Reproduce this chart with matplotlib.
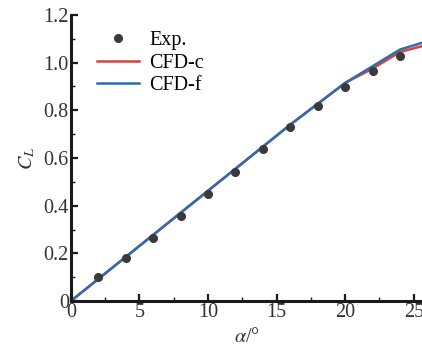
import numpy as np
import matplotlib.pyplot as plt
from matplotlib.ticker import MultipleLocator

plt.rcParams['font.family'] = ['Liberation Serif', 'DejaVu Serif']
plt.rcParams['mathtext.fontset'] = 'stix'

# experimental data
alpha_exp = [2, 4, 6, 8, 10, 12, 14, 16, 18, 20, 22, 24]
cl_exp = [0.10, 0.18, 0.265, 0.355, 0.45, 0.542, 0.636, 0.728, 0.82, 0.898, 0.965, 1.027]

# CFD results
alpha_cfd = [0, 4, 8, 12, 16, 20, 22, 24, 26]
cl_cfd_c = [0.0, 0.185, 0.37, 0.555, 0.74, 0.915, 0.975, 1.045, 1.075]
cl_cfd_f = [0.0, 0.185, 0.37, 0.555, 0.74, 0.915, 0.985, 1.055, 1.09]

fig = plt.figure(figsize=(4.22, 3.48), dpi=100)
ax = fig.add_axes([0.168, 0.135, 0.832, 0.822])

ax.plot(alpha_exp, cl_exp, 'o', color='#3a3a3a', ms=5.5, label='Exp.', zorder=3)
ax.plot(alpha_cfd, cl_cfd_c, '-', color='#d9433b', lw=1.8, label='CFD-c')
ax.plot(alpha_cfd, cl_cfd_f, '-', color='#2b6cb3', lw=1.8, label='CFD-f')

ax.set_xlim(0, 25.6)
ax.set_ylim(0, 1.2)
ax.xaxis.set_major_locator(MultipleLocator(5))
ax.xaxis.set_minor_locator(MultipleLocator(2.5))
ax.yaxis.set_minor_locator(MultipleLocator(0.1))
ax.set_yticks([0, 0.2, 0.4, 0.6, 0.8, 1.0, 1.2])
ax.set_yticklabels(['0', '0.2', '0.4', '0.6', '0.8', '1.0', '1.2'])

for s in ['top', 'right']:
    ax.spines[s].set_visible(False)
for s in ['left', 'bottom']:
    ax.spines[s].set_linewidth(2.2)
    ax.spines[s].set_color('#1a1a1a')

ax.tick_params(which='major', direction='in', length=5, width=1.6, labelsize=14.5, pad=1.5,
               colors='#1a1a1a', labelcolor='#333333')
ax.tick_params(which='minor', direction='in', length=3, width=1.0, colors='#1a1a1a')

ax.set_xlabel(r'$\alpha$/°', fontsize=14.5, labelpad=4, color='#333333')
ax.set_ylabel(r'$C_L$', fontsize=14.5, color='#333333')
ax.yaxis.set_label_coords(-0.095, 0.5)

ax.legend(loc='upper left', bbox_to_anchor=(0.04, 0.985), frameon=False, fontsize=14.5,
          handlelength=2.1, handletextpad=0.5, labelspacing=0.15, borderaxespad=0.2)

fig.savefig('out.png', dpi=100)
